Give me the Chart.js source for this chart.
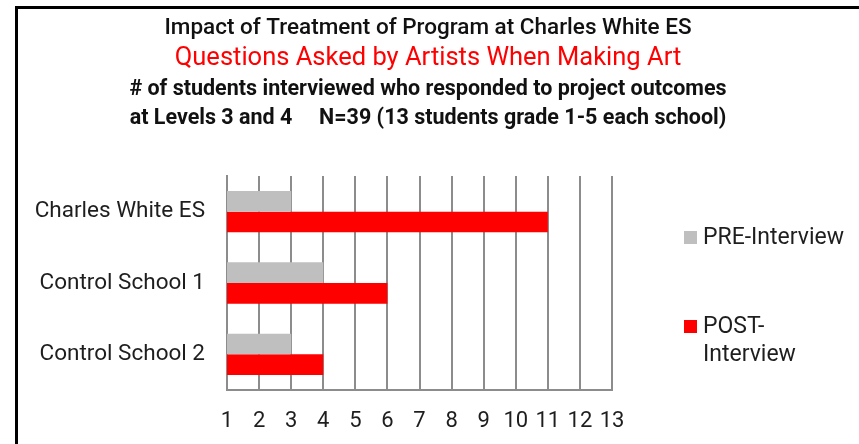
<!DOCTYPE html>
<html>
<head>
<meta charset="utf-8">
<script src="https://cdn.jsdelivr.net/npm/chart.js@4.4.0/dist/chart.umd.min.js"></script>
<style>
  html, body { margin: 0; padding: 0; background: #ffffff; overflow: hidden; }
  #wrap { position: relative; width: 859px; height: 444px; }
  #frame { position: absolute; left: 15px; top: 6px; width: 900px; height: 500px; border: 3px solid #000; box-sizing: border-box; pointer-events: none; }
  canvas { position: absolute; left: 0; top: 0; }
</style>
</head>
<body>
<div id="wrap">
  <canvas id="c" width="859" height="444"></canvas>
  <div id="frame"></div>
</div>
<script>
const titleLines = [
  "Impact of Treatment of Program at Charles White ES",
  "Questions Asked by Artists When Making Art",
  "# of students interviewed who responded to project outcomes",
  "at Levels 3 and 4     N=39 (13 students grade 1-5 each school)"
];
const categories = ["Charles White ES", "Control School 1", "Control School 2"];
const seriesNames = [["PRE-Interview"], ["POST-", "Interview"]];
const preValues = [3, 4, 3];
const postValues = [11, 6, 4];
const xTicks = [1, 2, 3, 4, 5, 6, 7, 8, 9, 10, 11, 12, 13];

const FONT = "Roboto, 'Open Sans', sans-serif";
const TXT = "#1e1e1e";
const GRID = "#8c8c8c";

const titlePlugin = {
  id: 'multiTitle',
  afterDraw(chart) {
    const ctx = chart.ctx;
    const cx = 428;
    ctx.save();
    ctx.textAlign = 'center';
    ctx.textBaseline = 'alphabetic';
    const styles = [
      { font: "500 22.5px " + FONT, color: "#111", y: 34 },
      { font: "400 25.5px " + FONT, color: "#ff0000", y: 65 },
      { font: "700 21.5px " + FONT, color: "#111", y: 95 },
      { font: "700 21.5px " + FONT, color: "#111", y: 124 }
    ];
    titleLines.forEach((t, i) => {
      ctx.font = styles[i].font;
      ctx.fillStyle = styles[i].color;
      ctx.fillText(t, cx, styles[i].y);
    });
    ctx.restore();
  }
};

const legendPlugin = {
  id: 'sideLegend',
  afterDraw(chart) {
    const ctx = chart.ctx;
    const ds = chart.data.datasets;
    const x0 = chart.chartArea.right + 72;
    const ys = [238, 327];
    ctx.save();
    ctx.textAlign = 'left';
    ctx.textBaseline = 'middle';
    ctx.font = "400 23px " + FONT;
    ds.forEach((d, i) => {
      ctx.fillStyle = d.backgroundColor;
      ctx.fillRect(x0, ys[i] - 7, 13, 13);
      ctx.fillStyle = TXT;
      seriesNames[i].forEach((line, j) => {
        ctx.fillText(line, x0 + 19, ys[i] + j * 28);
      });
    });
    ctx.restore();
  }
};

new Chart(document.getElementById('c'), {
  type: 'bar',
  data: {
    labels: categories,
    datasets: [
      { label: seriesNames[0].join(' '), data: preValues, backgroundColor: '#bfbfbf', categoryPercentage: 0.58, barPercentage: 1.0 },
      { label: seriesNames[1].join(''), data: postValues, backgroundColor: '#ff0000', categoryPercentage: 0.58, barPercentage: 1.0 }
    ]
  },
  options: {
    indexAxis: 'y',
    responsive: false,
    animation: false,
    devicePixelRatio: 1,
    layout: { padding: { top: 176, right: 247, bottom: 0, left: 0 } },
    plugins: {
      legend: { display: false },
      title: { display: false },
      tooltip: { enabled: false }
    },
    scales: {
      x: {
        type: 'linear',
        min: xTicks[0],
        max: xTicks[xTicks.length - 1],
        afterBuildTicks(scale) { scale.ticks = xTicks.map(v => ({ value: v })); },
        afterFit(scale) { scale.height = 54; },
        ticks: { stepSize: 1, padding: 18, color: TXT, font: { family: FONT, size: 22 } },
        grid: { color: GRID, lineWidth: 2, drawTicks: false },
        border: { color: GRID, width: 2 }
      },
      y: {
        afterFit(scale) { scale.width = 227; },
        ticks: { padding: 22, color: TXT, font: { family: FONT, size: 22.5 } },
        grid: { display: false, drawTicks: false },
        border: { color: GRID, width: 2 }
      }
    }
  },
  plugins: [titlePlugin, legendPlugin]
});
</script>
</body>
</html>
